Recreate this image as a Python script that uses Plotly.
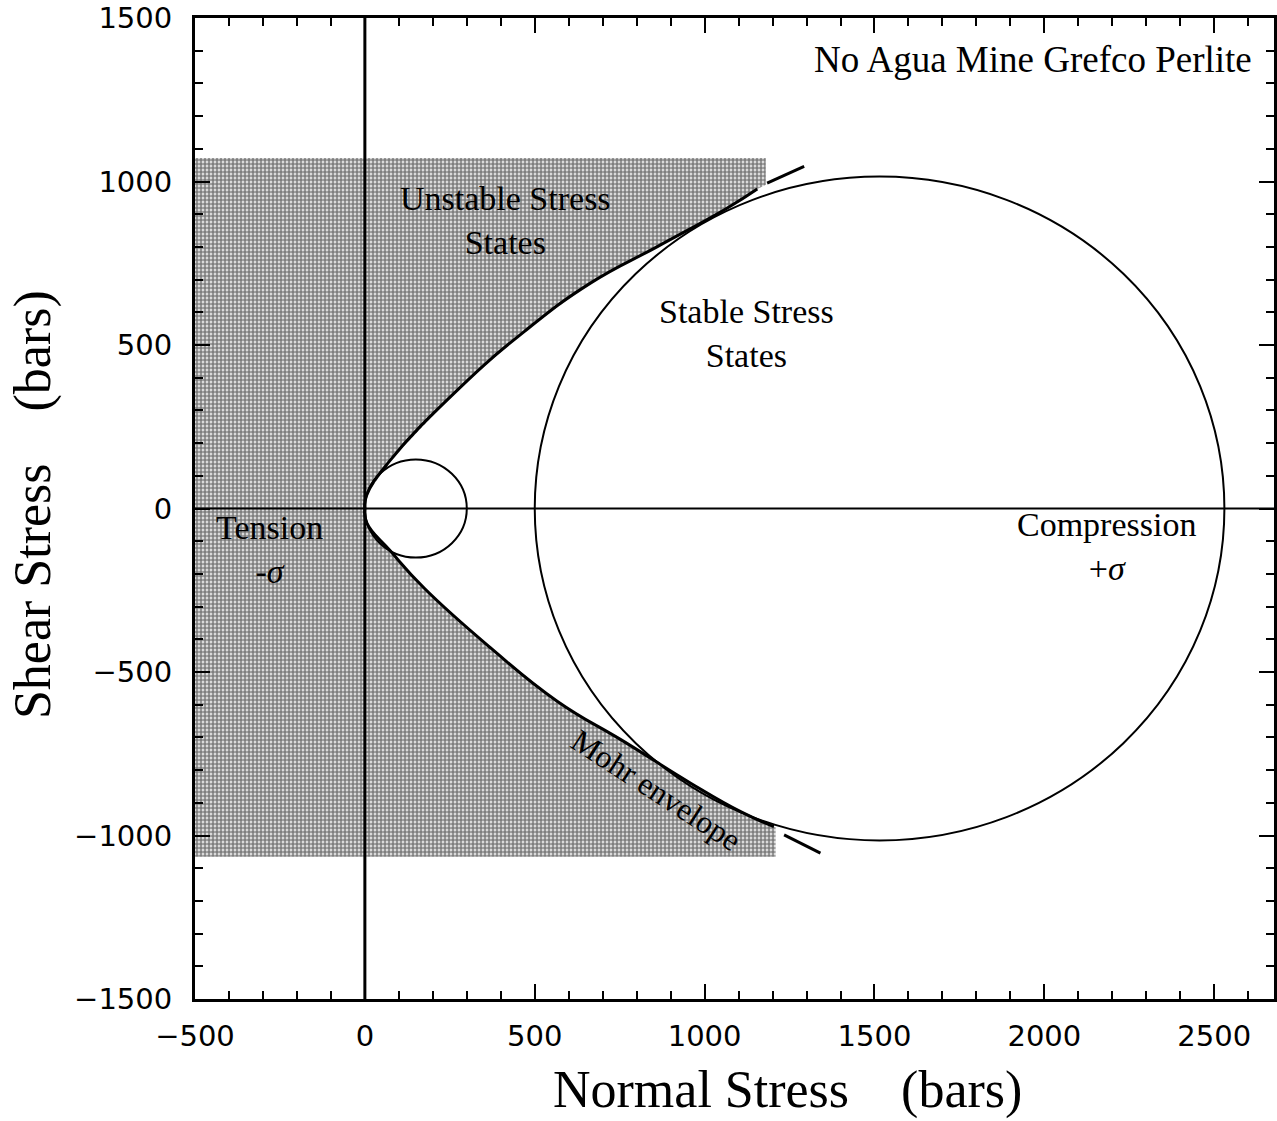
import plotly.graph_objects as go

# Mohr envelope, upper (tau > 0) and lower (tau < 0) branches, in bars
upper_sigma = [0, 5, 72, 273, 469, 665, 861, 1067, 1155]
upper_tau = [0, 40, 144, 363, 541, 690, 801, 919, 977]
lower_sigma = [0, 6, 76, 175, 371, 567, 763, 959, 1106, 1204]
lower_tau = [0, -45, -131, -244, -427, -590, -713, -840, -927, -973]

# continuation dashes beyond the tangent points
upper_ext_sigma = [1184, 1293]
upper_ext_tau = [995, 1046]
lower_ext_sigma = [1234, 1341]
lower_ext_tau = [-998, -1054]

# Mohr circles: (sigma3, sigma1)
small_circle = (0, 300)
large_circle = (500, 2530)

# extent of the shaded "unstable" field
shade_left = -500
shade_top = 1072
shade_bottom = -1065
shade_right_top = 1180
shade_right_bottom = 1209
shade_corner_top_tau = 990
shade_corner_bottom_tau = -975

x_range = [-500, 2676]
y_range = [-1500, 1500]

SERIF = "Liberation Serif"

fig = go.Figure()

# shaded region outside the envelope
poly_x = ([shade_left, shade_right_top, shade_right_top] + upper_sigma[::-1]
          + lower_sigma[1:] + [shade_right_bottom, shade_right_bottom, shade_left])
poly_y = ([shade_top, shade_top, shade_corner_top_tau] + upper_tau[::-1]
          + lower_tau[1:] + [shade_corner_bottom_tau, shade_bottom, shade_bottom])
fig.add_trace(go.Scatter(
    x=poly_x, y=poly_y, mode="none", fill="toself",
    fillcolor="rgba(0,0,0,0)",
    fillpattern=dict(shape=".", fgcolor="#000000", bgcolor="#ffffff",
                     size=4, solidity=0.72),
    hoverinfo="skip", showlegend=False))

# envelope branches
for xs, ys in [(upper_sigma, upper_tau), (lower_sigma, lower_tau)]:
    fig.add_trace(go.Scatter(
        x=xs, y=ys, mode="lines",
        line=dict(color="black", width=3, shape="spline", smoothing=1.3),
        hoverinfo="skip", showlegend=False))
for xs, ys in [(upper_ext_sigma, upper_ext_tau), (lower_ext_sigma, lower_ext_tau)]:
    fig.add_trace(go.Scatter(
        x=xs, y=ys, mode="lines", line=dict(color="black", width=3),
        hoverinfo="skip", showlegend=False))

# Mohr circles
for s3, s1 in [small_circle, large_circle]:
    r = (s1 - s3) / 2
    fig.add_shape(type="circle", xref="x", yref="y", x0=s3, x1=s1, y0=-r, y1=r,
                  line=dict(color="black", width=2), layer="above")

# axes through the origin
fig.add_shape(type="line", xref="x", yref="y", x0=0, x1=0, y0=y_range[0], y1=y_range[1],
              line=dict(color="black", width=3), layer="above")
fig.add_shape(type="line", xref="x", yref="y", x0=x_range[0], x1=x_range[1], y0=0, y1=0,
              line=dict(color="black", width=2), layer="above")

# labels
txt = dict(family=SERIF, size=34, color="black")
fig.add_annotation(x=1967, y=1373, text="No Agua Mine Grefco Perlite",
                   showarrow=False, font=dict(family=SERIF, size=37, color="black"))
fig.add_annotation(x=415, y=880, text="Unstable Stress<br>States",
                   showarrow=False, font=txt)
fig.add_annotation(x=1122, y=534, text="Stable Stress<br>States",
                   showarrow=False, font=txt)
fig.add_annotation(x=2182, y=-115, text="Compression<br>+<i>σ</i>",
                   showarrow=False, font=txt)
fig.add_annotation(x=-280, y=-126, text="Tension<br>-<i>σ</i>",
                   showarrow=False, font=txt)
fig.add_annotation(x=858, y=-861, text="Mohr envelope", textangle=33,
                   showarrow=False, font=dict(family=SERIF, size=32, color="black"))

# axis titles
nb = "\u00a0" * 4
fig.add_annotation(xref="paper", yref="paper", x=0.549, y=-0.093,
                   xanchor="center", yanchor="middle",
                   text="Normal Stress" + nb + "(bars)", showarrow=False,
                   font=dict(family=SERIF, size=52, color="black"))
fig.add_annotation(xref="paper", yref="paper", x=-0.150, y=0.5036,
                   xanchor="center", yanchor="middle",
                   text="Shear Stress" + nb + "(bars)", textangle=-90, showarrow=False,
                   font=dict(family=SERIF, size=52, color="black"))

axis_common = dict(
    showgrid=False, zeroline=False,
    showline=True, linecolor="black", linewidth=3, mirror="ticks",
    ticks="inside", ticklen=15, tickwidth=2, tickcolor="black",
    dtick=500, tick0=0,
    minor=dict(dtick=100, tick0=0, ticks="inside", ticklen=8, tickwidth=2,
               tickcolor="black", showgrid=False),
    tickfont=dict(family="DejaVu Sans", size=29, color="black"),
)

fig.update_layout(
    width=1277, height=1121,
    margin=dict(l=195, r=0, t=18, b=122),
    paper_bgcolor="white", plot_bgcolor="white",
    showlegend=False,
    xaxis=dict(range=x_range, ticklabelstandoff=9, **axis_common),
    yaxis=dict(range=y_range, ticklabelstandoff=14, **axis_common),
)

fig.write_html("out.html")
